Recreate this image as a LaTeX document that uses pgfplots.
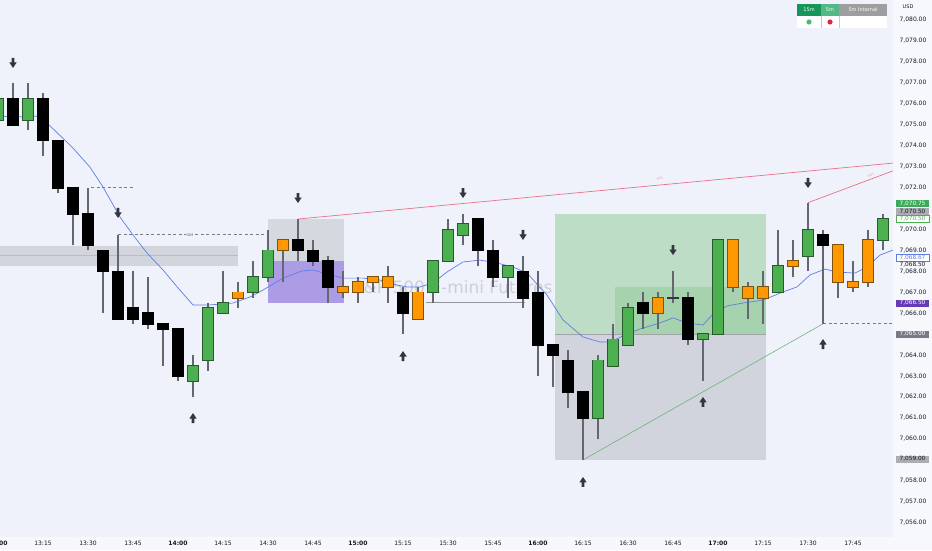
\documentclass[border=0pt]{standalone}
\usepackage{fontspec}
\setmainfont{DejaVu Sans}
\usepackage{pgfplots}
\usepackage{pgfplotstable}
\pgfplotsset{compat=1.18}

\definecolor{pagebg}{RGB}{247,248,252}
\definecolor{plotbg}{RGB}{239,242,250}
\definecolor{ticktxt}{RGB}{19,23,34}
\definecolor{gfill}{RGB}{76,175,80}
\definecolor{gedge}{RGB}{40,90,45}
\definecolor{ofill}{RGB}{255,152,0}
\definecolor{oedge}{RGB}{125,82,10}
\definecolor{wick}{RGB}{100,103,112}
\definecolor{arrowc}{RGB}{50,54,64}
\definecolor{zonegray}{RGB}{210,213,220}
\definecolor{zoneline}{RGB}{185,188,196}
\definecolor{premgray}{RGB}{214,216,223}
\definecolor{purplebox}{RGB}{172,156,230}
\definecolor{posgreen}{RGB}{76,175,80}
\definecolor{posgray}{RGB}{120,123,134}
\definecolor{maline}{RGB}{95,125,230}
\definecolor{redline}{RGB}{236,112,135}
\definecolor{greenline}{RGB}{110,180,120}
\definecolor{dashgray}{RGB}{120,123,134}
\definecolor{watermark}{RGB}{203,207,217}
\definecolor{labgreen}{RGB}{60,170,90}
\definecolor{labgray}{RGB}{172,174,180}
\definecolor{labgreen2}{RGB}{76,175,80}
\definecolor{labpurple}{RGB}{103,58,183}
\definecolor{labdark}{RGB}{120,123,134}
\definecolor{tab15}{RGB}{22,150,88}
\definecolor{tab5}{RGB}{84,184,134}
\definecolor{tabint}{RGB}{158,158,160}
\definecolor{tabsep}{RGB}{200,200,205}
\definecolor{dotg}{RGB}{70,190,110}
\definecolor{dotr}{RGB}{220,40,60}

\pgfdeclareplotmark{dnarr}{%
  \pgfpathmoveto{\pgfpoint{-1.4pt}{5pt}}%
  \pgfpathlineto{\pgfpoint{1.4pt}{5pt}}%
  \pgfpathlineto{\pgfpoint{1.4pt}{0.5pt}}%
  \pgfpathlineto{\pgfpoint{3.7pt}{0.5pt}}%
  \pgfpathlineto{\pgfpoint{0pt}{-5pt}}%
  \pgfpathlineto{\pgfpoint{-3.7pt}{0.5pt}}%
  \pgfpathlineto{\pgfpoint{-1.4pt}{0.5pt}}%
  \pgfpathclose\pgfusepathqfill}
\pgfdeclareplotmark{uparr}{%
  \pgfpathmoveto{\pgfpoint{-1.4pt}{-5pt}}%
  \pgfpathlineto{\pgfpoint{1.4pt}{-5pt}}%
  \pgfpathlineto{\pgfpoint{1.4pt}{-0.5pt}}%
  \pgfpathlineto{\pgfpoint{3.7pt}{-0.5pt}}%
  \pgfpathlineto{\pgfpoint{0pt}{5pt}}%
  \pgfpathlineto{\pgfpoint{-3.7pt}{-0.5pt}}%
  \pgfpathlineto{\pgfpoint{-1.4pt}{-0.5pt}}%
  \pgfpathclose\pgfusepathqfill}

% candles: x = 5-minute bar index from 13:00; bot/top = body, lo/hi = wick
\pgfplotstableread{
x bot top lo hi
0 7075.25 7076.25 7075.25 7076.25
2 7075.25 7076.25 7074.75 7077.0
13 7062.75 7063.5 7062.0 7064.0
14 7063.75 7066.25 7063.25 7066.5
15 7066.0 7066.5 7066.0 7068.0
17 7067.0 7067.75 7066.75 7068.5
18 7067.75 7069.0 7067.5 7070.0
29 7067.0 7068.5 7066.5 7068.5
30 7068.5 7070.0 7068.5 7070.5
31 7069.75 7070.25 7069.25 7070.75
34 7067.75 7068.25 7066.75 7068.25
40 7061.0 7063.75 7060.0 7064.0
41 7063.5 7064.75 7063.5 7065.5
42 7064.5 7066.25 7064.5 7066.5
47 7064.75 7065.0 7062.75 7065.0
48 7065.0 7069.5 7065.0 7069.5
52 7067.0 7068.25 7067.0 7070.0
54 7068.75 7070.0 7068.0 7071.25
59 7069.5 7070.5 7069.0 7070.75
}\greenT

\pgfplotstableread{
x bot top lo hi
1 7075.0 7076.25 7075.0 7077.0
3 7074.25 7076.25 7073.5 7076.5
4 7072.0 7074.25 7071.75 7074.25
5 7070.75 7072.0 7069.25 7072.0
6 7069.25 7070.75 7069.0 7072.0
7 7068.0 7069.0 7066.0 7069.0
8 7065.75 7068.0 7065.75 7069.75
9 7065.75 7066.25 7065.5 7068.0
10 7065.5 7066.0 7065.25 7067.75
11 7065.25 7065.5 7063.5 7065.5
12 7063.0 7065.25 7062.75 7065.25
20 7069.0 7069.5 7068.5 7070.5
21 7068.5 7069.0 7068.25 7069.5
22 7067.25 7068.5 7066.5 7068.75
27 7066.0 7067.0 7065.0 7067.25
32 7069.0 7070.5 7068.25 7070.5
33 7067.75 7069.0 7067.25 7069.5
35 7066.75 7068.0 7066.25 7068.75
36 7064.5 7067.0 7063.0 7068.0
37 7064.0 7064.5 7062.5 7064.5
38 7062.25 7063.75 7061.5 7064.25
39 7061.0 7062.25 7059.0 7062.25
43 7066.0 7066.5 7065.25 7067.0
46 7064.75 7066.75 7064.5 7067.0
55 7069.25 7069.75 7065.5 7070.0
}\blackT

\pgfplotstableread{
x bot top lo hi
16 7066.75 7067.0 7066.25 7067.5
19 7069.0 7069.5 7067.5 7069.5
23 7067.0 7067.25 7066.75 7068.0
24 7067.0 7067.5 7066.5 7067.75
25 7067.5 7067.75 7067.0 7067.75
26 7067.25 7067.75 7066.5 7068.25
28 7065.75 7067.0 7065.75 7067.25
44 7066.0 7066.75 7065.25 7067.0
49 7067.25 7069.5 7067.0 7069.5
50 7066.75 7067.25 7065.75 7067.5
51 7066.75 7067.25 7065.5 7068.0
53 7068.25 7068.5 7067.75 7069.5
56 7067.5 7069.25 7066.75 7069.25
57 7067.25 7067.5 7067.0 7068.5
58 7067.5 7069.5 7067.25 7070.0
}\orangeT

\pgfplotstableread{
x bot top lo hi
45 7066.75 7066.75 7066.5 7068.0
}\dojiT

\begin{document}
\begin{tikzpicture}
\useasboundingbox (0,0) rectangle (932pt,550pt);
\fill[pagebg] (0,0) rectangle (932pt,550pt);
\begin{axis}[
  at={(0pt,550pt)}, anchor=north west,
  scale only axis, width=893pt, height=537pt,
  xmin=0.1333, xmax=59.6667, ymin=7055.322, ymax=7080.955,
  clip=false,
  axis background/.style={fill=plotbg},
  axis line style={draw=none},
  major tick length=0pt,
  tick style={draw=none},
  scaled y ticks=false,
  xtick={3,6,9,12,15,18,21,24,27,30,33,36,39,42,45,48,51,54,57},
  xticklabels={13:15,13:30,13:45,\textbf{14:00},14:15,14:30,14:45,\textbf{15:00},15:15,15:30,15:45,\textbf{16:00},16:15,16:30,16:45,\textbf{17:00},17:15,17:30,17:45},
  xticklabel style={font=\fontsize{6}{7}\selectfont, text=ticktxt, anchor=center, yshift=-6.5pt},
  yticklabel pos=right,
  ytick={7056,7057,7058,7060,7061,7062,7063,7064,7066,7067,7068,7069,7070,7072,7073,7074,7075,7076,7077,7078,7079,7080},
  yticklabels={{7,056.00},{7,057.00},{7,058.00},{7,060.00},{7,061.00},{7,062.00},{7,063.00},{7,064.00},{7,066.00},{7,067.00},{7,068.00},{7,069.00},{7,070.00},{7,072.00},{7,073.00},{7,074.00},{7,075.00},{7,076.00},{7,077.00},{7,078.00},{7,079.00},{7,080.00}},
  yticklabel style={font=\fontsize{6}{7}\selectfont, text=ticktxt, anchor=center, xshift=20pt},
]
% liquidity zone on the left
\addplot[fill=zonegray, draw=none, forget plot] coordinates {(0.1333,7068.26) (16.0,7068.26) (16.0,7069.21) (0.1333,7069.21)} -- cycle;
\addplot[zoneline, line width=1pt, forget plot] coordinates {(0.1333,7068.74) (16.0,7068.74)};

% swing arrows
\addplot[only marks, mark=dnarr, color=arrowc, forget plot] coordinates {(1,7077.95) (8,7070.79) (20,7071.5) (31,7071.74) (35,7069.74) (45,7069.02) (54,7072.22)};
\addplot[only marks, mark=uparr, color=arrowc, forget plot] coordinates {(13,7061.0) (27,7063.96) (39,7057.95) (47,7061.77) (55,7064.53)};

% premium / discount box
\addplot[fill=premgray, draw=none, forget plot] coordinates {(18.0,7068.5) (23.07,7068.5) (23.07,7070.5) (18.0,7070.5)} -- cycle;
\addplot[fill=purplebox, draw=none, forget plot] coordinates {(18.0,7066.5) (23.07,7066.5) (23.07,7068.5) (18.0,7068.5)} -- cycle;

% long position tool
\addplot[fill=posgreen, fill opacity=0.3, draw=none, forget plot] coordinates {(37.13,7065.0) (51.2,7065.0) (51.2,7070.75) (37.13,7070.75)} -- cycle;
\addplot[fill=posgreen, fill opacity=0.2, draw=none, forget plot] coordinates {(41.13,7065.0) (51.2,7065.0) (51.2,7067.25) (41.13,7067.25)} -- cycle;
\addplot[fill=posgray, fill opacity=0.25, draw=none, forget plot] coordinates {(37.13,7059.0) (51.2,7059.0) (51.2,7065.0) (37.13,7065.0)} -- cycle;
\addplot[color=posgray!70, line width=0.6pt, forget plot] coordinates {(37.13,7065.0) (51.2,7065.0)};

% watermark
\node[text=watermark, font=\fontsize{17}{18}\selectfont, anchor=east] at (axis cs:37.2,7067.26) {S\&P 500 E-mini Futures};

% structure lines
\addplot[dashgray, dash pattern=on 3pt off 2.5pt, line width=0.6pt, forget plot] coordinates {(6.2,7072.0) (9.0,7072.0)};
\addplot[dashgray, dash pattern=on 3pt off 2.5pt, line width=0.6pt, forget plot] coordinates {(8.0,7069.75) (17.9,7069.75)};
\node[fill=plotbg, inner sep=0.6pt, text=dashgray!80!black, font=\fontsize{3.5}{4}\selectfont] at (axis cs:12.8,7069.75) {IDM};
\addplot[redline, line width=0.7pt, forget plot] coordinates {(20.0,7070.5) (59.6667,7073.17)};
\addplot[redline, line width=0.7pt, forget plot] coordinates {(54.0,7071.28) (59.6667,7072.8)};
\node[text=redline!70, font=\fontsize{3}{3}\selectfont, rotate=5] at (axis cs:44.13,7072.42) {BOS};
\node[text=redline!70, font=\fontsize{3}{3}\selectfont, rotate=20] at (axis cs:58.2,7072.6) {BOS};
\addplot[greenline, line width=0.6pt, forget plot] coordinates {(39.0,7059.0) (55.0,7065.5)};
\addplot[dashgray, dash pattern=on 3pt off 2.5pt, line width=0.6pt, forget plot] coordinates {(55.0,7065.5) (59.6667,7065.5)};
\addplot[color=dashgray!80, line width=1.1pt, forget plot] coordinates {(28.5,7066.5) (35.1,7066.5)};

% moving average
\addplot[maline, line width=0.7pt, forget plot] coordinates {
(0.13,7075.42) (1.0,7075.37) (3.0,7075.42) (3.33,7075.04) (4.93,7073.94) (6.13,7072.98) (7.0,7072.03) (8.13,7070.60) (9.0,7069.74) (9.93,7068.88) (11.0,7068.07) (12.0,7067.21) (13.0,7066.40) (14.13,7066.40) (15.67,7066.49) (16.8,7066.78) (17.67,7067.11) (19.0,7067.68) (20.27,7068.02) (21.0,7068.07) (22.13,7067.83) (23.0,7067.68) (24.33,7067.68) (25.47,7067.59) (26.6,7067.35) (27.27,7067.26) (28.13,7067.26) (29.0,7067.45) (29.93,7067.97) (31.0,7068.45) (32.13,7068.54) (33.27,7068.40) (34.33,7068.21) (35.27,7067.92) (36.6,7066.87) (37.67,7065.68) (39.0,7064.87) (40.13,7064.63) (40.8,7064.63) (41.93,7065.01) (42.8,7065.25) (44.13,7065.54) (45.0,7065.78) (45.93,7065.54) (47.0,7065.44) (47.67,7065.97) (48.6,7066.35) (49.67,7066.49) (51.0,7066.63) (52.33,7067.02) (53.27,7067.26) (54.13,7067.83) (55.13,7068.11) (55.93,7067.97) (57.13,7067.92) (57.93,7068.21) (58.8,7068.78) (59.67,7069.02)};

% wicks
\pgfplotsset{wickstyle/.style={draw=none, mark=none, forget plot, error bars/.cd, y dir=plus, y explicit, error mark=none, error bar style={draw=wick, line width=1.2pt}}}
\addplot[wickstyle] table[x=x, y=lo, y error expr=\thisrow{hi}-\thisrow{lo}] {\greenT};
\addplot[wickstyle] table[x=x, y=lo, y error expr=\thisrow{hi}-\thisrow{lo}] {\blackT};
\addplot[wickstyle] table[x=x, y=lo, y error expr=\thisrow{hi}-\thisrow{lo}] {\orangeT};
\addplot[wickstyle] table[x=x, y=lo, y error expr=\thisrow{hi}-\thisrow{lo}] {\dojiT};

% bodies
\pgfplotsset{edgestyle/.style={draw=none, mark=none, forget plot, error bars/.cd, y dir=both, y explicit, error mark=none, error bar style={draw=#1, line width=11.4pt}}}
\pgfplotsset{fillstyle/.style={draw=none, mark=none, forget plot, error bars/.cd, y dir=plus, y explicit, error mark=none, error bar style={draw=#1, line width=9.4pt}}}
\addplot[edgestyle=gedge] table[x=x, y=bot, y error plus expr=\thisrow{top}-\thisrow{bot}+0.04, y error minus expr=0.04] {\greenT};
\addplot[fillstyle=gfill] table[x=x, y=bot, y error expr=\thisrow{top}-\thisrow{bot}] {\greenT};
\addplot[edgestyle=black] table[x=x, y=bot, y error plus expr=\thisrow{top}-\thisrow{bot}+0.04, y error minus expr=0.04] {\blackT};
\addplot[edgestyle=oedge] table[x=x, y=bot, y error plus expr=\thisrow{top}-\thisrow{bot}+0.04, y error minus expr=0.04] {\orangeT};
\addplot[fillstyle=ofill] table[x=x, y=bot, y error expr=\thisrow{top}-\thisrow{bot}] {\orangeT};
\addplot[edgestyle=arrowc] table[x=x, y=bot, y error plus expr=\thisrow{top}-\thisrow{bot}+0.04, y error minus expr=0.04] {\dojiT};
\end{axis}

% 13:00 label cut at the left edge
\node[font=\fontsize{6}{7}\selectfont\bfseries, text=ticktxt] at (-2pt,6.5pt) {13:00};
% currency
\node[font=\fontsize{5}{6}\selectfont, text=ticktxt] at (908pt,543pt) {USD};

% price labels on the scale
\tikzset{plab/.style={minimum width=33pt, minimum height=7pt, inner sep=0pt, font=\fontsize{5.8}{6}\selectfont}}
\node[plab, fill=labgreen, text=white] at (912.5pt,346pt) {7,070.75};
\node[plab, fill=labgray, text=ticktxt] at (912.5pt,338pt) {7,070.50};
\node[plab, fill=white, draw=labgreen2, line width=0.5pt, text=labgreen2] at (912.5pt,331pt) {7,070.50};
\node[plab, fill=white, draw=maline, line width=0.5pt, text=maline] at (912.5pt,292pt) {7,068.67};
\node[plab, text=ticktxt] at (912.5pt,285pt) {7,068.50};
\node[plab, fill=labpurple, text=white] at (912.5pt,247pt) {7,066.50};
\node[plab, fill=labdark, text=white] at (912.5pt,216pt) {7,065.00};
\node[plab, fill=labgray, text=ticktxt] at (912.5pt,91pt) {7,059.00};

% status table (top right)
\fill[white] (797pt,534pt) rectangle (887pt,522pt);
\fill[tab15] (797pt,546pt) rectangle (821pt,534pt);
\fill[tab5] (821pt,546pt) rectangle (839pt,534pt);
\fill[tabint] (839pt,546pt) rectangle (887pt,534pt);
\draw[tabsep, line width=0.5pt] (821pt,534pt) -- (821pt,522pt) (839pt,534pt) -- (839pt,522pt);
\node[text=white, font=\fontsize{5}{6}\selectfont] at (809pt,540pt) {15m};
\node[text=white, font=\fontsize{5}{6}\selectfont] at (830pt,540pt) {5m};
\node[text=white, font=\fontsize{5}{6}\selectfont] at (863pt,540pt) {5m Internal};
\fill[dotg] (809pt,528pt) circle (2.6pt);
\fill[dotr] (830pt,528pt) circle (2.6pt);
\end{tikzpicture}
\end{document}
